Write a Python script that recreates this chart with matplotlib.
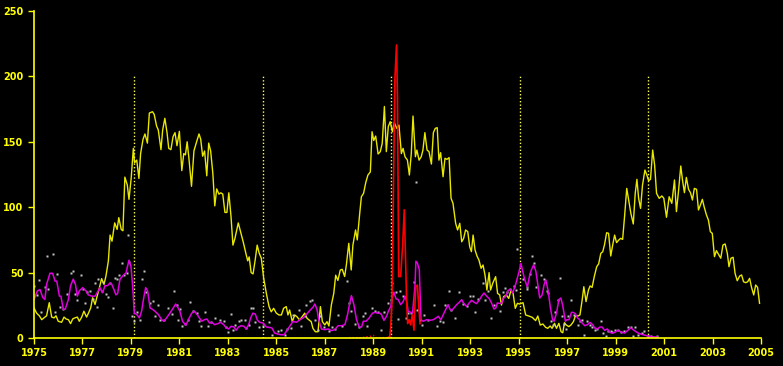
"""Monthly activity index 1975-2005 on a black background."""

import matplotlib
matplotlib.use("Agg")
import matplotlib.pyplot as plt

# --- yellow series ---
yellow_t = [
    1975.00, 1975.11, 1975.22, 1975.32, 1975.41, 1975.52, 1975.63, 1975.73, 1975.83, 1975.91,
    1976.00, 1976.14, 1976.24, 1976.32, 1976.42, 1976.51, 1976.60, 1976.69, 1976.79, 1976.87,
    1976.97, 1977.06, 1977.17, 1977.24, 1977.34, 1977.42, 1977.52, 1977.59, 1977.70, 1977.79,
    1977.89, 1977.97, 1978.07, 1978.14, 1978.22, 1978.33, 1978.43, 1978.50, 1978.60, 1978.67,
    1978.75, 1978.85, 1978.92, 1979.01, 1979.10, 1979.15, 1979.24, 1979.33, 1979.40, 1979.50,
    1979.58, 1979.68, 1979.76, 1979.89, 1979.96, 1980.06, 1980.13, 1980.24, 1980.31, 1980.40,
    1980.49, 1980.56, 1980.65, 1980.74, 1980.82, 1980.90, 1981.00, 1981.10, 1981.18, 1981.25,
    1981.32, 1981.39, 1981.50, 1981.60, 1981.71, 1981.81, 1981.88, 1981.96, 1982.04, 1982.13,
    1982.21, 1982.29, 1982.38, 1982.46, 1982.54, 1982.63, 1982.71, 1982.79, 1982.88, 1982.96,
    1983.04, 1983.13, 1983.21, 1983.29, 1983.43, 1983.54, 1983.64, 1983.74, 1983.82, 1983.88,
    1983.96, 1984.04, 1984.13, 1984.21, 1984.29, 1984.38, 1984.48, 1984.59, 1984.70, 1984.79,
    1984.89, 1985.00, 1985.11, 1985.21, 1985.30, 1985.41, 1985.48, 1985.55, 1985.66, 1985.76,
    1985.85, 1985.96, 1986.07, 1986.17, 1986.27, 1986.35, 1986.44, 1986.51, 1986.61, 1986.72,
    1986.82, 1986.90, 1987.00, 1987.09, 1987.17, 1987.27, 1987.37, 1987.45, 1987.54, 1987.64,
    1987.72, 1987.82, 1987.89, 1987.99, 1988.09, 1988.16, 1988.27, 1988.34, 1988.44, 1988.51,
    1988.60, 1988.69, 1988.78, 1988.88, 1988.95, 1989.02, 1989.10, 1989.20, 1989.29, 1989.37,
    1989.46, 1989.54, 1989.62, 1989.70, 1989.79, 1989.87, 1989.97, 1990.06, 1990.16, 1990.23,
    1990.31, 1990.41, 1990.49, 1990.57, 1990.64, 1990.74, 1990.80, 1990.89, 1990.98, 1991.05,
    1991.13, 1991.22, 1991.30, 1991.40, 1991.48, 1991.56, 1991.64, 1991.71, 1991.78, 1991.88,
    1991.96, 1992.04, 1992.13, 1992.21, 1992.29, 1992.40, 1992.48, 1992.57, 1992.65, 1992.73,
    1992.81, 1992.90, 1992.98, 1993.05, 1993.12, 1993.20, 1993.28, 1993.36, 1993.45, 1993.53,
    1993.61, 1993.69, 1993.78, 1993.84, 1993.94, 1994.05, 1994.13, 1994.22, 1994.29, 1994.38,
    1994.49, 1994.59, 1994.68, 1994.77, 1994.86, 1994.95, 1995.04, 1995.18, 1995.29, 1995.42,
    1995.56, 1995.70, 1995.79, 1995.89, 1996.00, 1996.11, 1996.20, 1996.30, 1996.38, 1996.48,
    1996.56, 1996.66, 1996.75, 1996.82, 1996.89, 1996.96, 1997.07, 1997.16, 1997.26, 1997.34,
    1997.44, 1997.53, 1997.62, 1997.69, 1997.78, 1997.88, 1997.95, 1998.03, 1998.12, 1998.22,
    1998.30, 1998.39, 1998.47, 1998.54, 1998.63, 1998.71, 1998.80, 1998.88, 1998.96, 1999.04,
    1999.13, 1999.21, 1999.29, 1999.37, 1999.46, 1999.54, 1999.63, 1999.73, 1999.81, 1999.88,
    1999.95, 2000.03, 2000.11, 2000.21, 2000.29, 2000.36, 2000.44, 2000.53, 2000.61, 2000.69,
    2000.80, 2000.91, 2000.99, 2001.10, 2001.21, 2001.32, 2001.43, 2001.51, 2001.60, 2001.69,
    2001.76, 2001.84, 2001.92, 2002.01, 2002.09, 2002.17, 2002.25, 2002.34, 2002.42, 2002.50,
    2002.58, 2002.66, 2002.75, 2002.83, 2002.91, 2002.99, 2003.08, 2003.16, 2003.24, 2003.34,
    2003.43, 2003.52, 2003.61, 2003.68, 2003.76, 2003.85, 2003.93, 2004.02, 2004.12, 2004.20,
    2004.28, 2004.37, 2004.45, 2004.53, 2004.61, 2004.70, 2004.78, 2004.86, 2004.94,
]
yellow_v = [
    23, 19, 17, 14, 15.4, 17, 27, 16, 15.4, 17,
    12.8, 12, 16, 14.6, 14, 11, 14.6, 15.4, 16, 12.8,
    16, 20.5, 16, 18.7, 23, 30.8, 25.6, 30.8, 38.5, 45.4,
    41, 47.4, 59, 78.7, 74, 88, 83, 92, 83, 82,
    123, 117, 106, 122, 145, 134, 136, 122, 141, 152,
    156, 149, 172, 173, 171, 162, 159, 144, 159, 168,
    157, 145, 144, 154, 157, 147, 158, 128, 141, 140,
    150, 138, 116, 143, 150, 156, 152, 139, 143, 124,
    149, 143, 126, 101, 114, 110, 111, 110, 96, 96,
    111, 93, 71, 76, 88, 80, 73, 65, 59, 62,
    50, 49, 60, 71, 65, 61, 45.6, 34, 24, 20,
    22.7, 19, 17.6, 17.6, 22.7, 24, 17.6, 21.4, 12.5, 17.6,
    16.3, 13.8, 16.3, 19, 15, 13.8, 12.5, 7.4, 4.8, 4.8,
    24, 12.5, 10, 12.5, 9.2, 25.2, 34, 48, 44, 52,
    52.5, 47, 55.8, 72.4, 52, 71, 82.6, 75, 95, 108,
    110.6, 118.8, 124.6, 127, 157.7, 151, 154.4, 140.7, 142.5, 148.8,
    177, 142.5, 161.6, 165.4, 157.7, 164.6, 160.3, 162.8, 141, 145,
    138.6, 136, 124.6, 141, 169.7, 138.6, 143.7, 136, 138.6, 143.7,
    157, 143.7, 142.5, 133, 157, 160.3, 160.8, 136, 141.7, 123.3,
    137.4, 136.6, 137.9, 106.8, 103, 87.7, 82.6, 87.7, 73.6, 76.2,
    82.6, 81.3, 69.8, 66, 78.7, 67.3, 62.7, 59.6, 53.3, 55.8,
    48.2, 36.7, 50, 36.7, 42.3, 46.9, 34.1, 32.9, 25.2, 31.6,
    32.9, 30.3, 36.2, 34.1, 22.7, 26.5, 26, 27, 17.6, 16.8,
    15.8, 13.3, 16.8, 9.9, 10.7, 8.2, 7.4, 9.2, 7.4, 11.2,
    7.4, 11.2, 4.8, 4, 11.7, 10, 8.7, 10, 12.5, 16.8,
    16.8, 17.6, 29, 39.2, 27.8, 36.7, 39.8, 38.7, 46.9, 54.5,
    56.6, 64.7, 66, 71.1, 80.5, 80, 62.7, 71.1, 78.7, 72.9,
    74.9, 76.2, 75.4, 92.8, 114.4, 105.5, 95.3, 87.2, 110.6, 121.3,
    106.8, 99.1, 116.8, 128.4, 124.6, 120.3, 121.3, 143.7, 132.3, 110.6,
    106.8, 108.6, 106.8, 92.3, 108, 103, 120.8, 96.6, 113.1, 131.5,
    120.8, 111.1, 122.8, 113.7, 111.1, 105.5, 114.4, 113.7, 97.9, 101.7,
    106, 99.9, 94, 90.2, 81.3, 80, 62.2, 66.8, 64.2, 61,
    71.1, 71.9, 64.7, 54.5, 61, 61.7, 49.4, 43.8, 47.4, 48.2,
    43, 42.3, 43, 45.6, 38.7, 32.9, 40.5, 38.7, 26.5,
]

# --- magenta (smoothed) series ---
magenta_t = [
    1975.00, 1975.14, 1975.25, 1975.36, 1975.45, 1975.52, 1975.66, 1975.77, 1975.87, 1975.94,
    1976.05, 1976.11, 1976.21, 1976.29, 1976.42, 1976.51, 1976.62, 1976.71, 1976.79, 1976.87,
    1977.01, 1977.15, 1977.24, 1977.38, 1977.52, 1977.65, 1977.72, 1977.83, 1977.93, 1978.03,
    1978.14, 1978.21, 1978.30, 1978.38, 1978.45, 1978.55, 1978.69, 1978.80, 1978.92, 1979.00,
    1979.07, 1979.14, 1979.24, 1979.35, 1979.44, 1979.54, 1979.61, 1979.69, 1979.79, 1979.90,
    1979.99, 1980.13, 1980.27, 1980.36, 1980.47, 1980.61, 1980.75, 1980.85, 1980.93, 1981.02,
    1981.13, 1981.27, 1981.37, 1981.51, 1981.62, 1981.73, 1981.83, 1981.92, 1982.03, 1982.14,
    1982.24, 1982.34, 1982.45, 1982.59, 1982.70, 1982.83, 1982.93, 1983.03, 1983.14, 1983.25,
    1983.34, 1983.44, 1983.55, 1983.66, 1983.76, 1983.86, 1983.94, 1984.03, 1984.13, 1984.21,
    1984.31, 1984.45, 1984.59, 1984.68, 1984.82, 1984.93, 1985.07, 1985.18, 1985.32, 1985.41,
    1985.55, 1985.69, 1985.83, 1985.97, 1986.10, 1986.24, 1986.38, 1986.52, 1986.59, 1986.68,
    1986.75, 1986.86, 1987.00, 1987.14, 1987.28, 1987.41, 1987.55, 1987.69, 1987.83, 1987.94,
    1988.03, 1988.10, 1988.20, 1988.31, 1988.42, 1988.52, 1988.59, 1988.70, 1988.83, 1988.97,
    1989.07, 1989.17, 1989.28, 1989.34, 1989.44, 1989.55, 1989.62, 1989.72, 1989.80, 1989.85,
    1989.94, 1990.03, 1990.13, 1990.24, 1990.31, 1990.38, 1990.44, 1990.54, 1990.62, 1990.72,
    1990.76, 1990.82, 1990.90, 1990.97, 1991.06, 1991.20, 1991.34, 1991.48, 1991.59, 1991.68,
    1991.79, 1991.89, 1992.00, 1992.09, 1992.16, 1992.23, 1992.33, 1992.44, 1992.55, 1992.65,
    1992.74, 1992.85, 1992.96, 1993.06, 1993.15, 1993.26, 1993.37, 1993.47, 1993.57, 1993.68,
    1993.79, 1993.88, 1993.98, 1994.06, 1994.12, 1994.20, 1994.30, 1994.36, 1994.47, 1994.57,
    1994.67, 1994.75, 1994.85, 1994.91, 1995.02, 1995.09, 1995.15, 1995.25, 1995.36, 1995.46,
    1995.53, 1995.62, 1995.71, 1995.78, 1995.87, 1995.97, 1996.05, 1996.12, 1996.22, 1996.31,
    1996.40, 1996.46, 1996.56, 1996.66, 1996.74, 1996.81, 1996.88, 1996.93, 1996.99, 1997.08,
    1997.18, 1997.25, 1997.34, 1997.43, 1997.52, 1997.62, 1997.73, 1997.84, 1997.94, 1998.05,
    1998.14, 1998.25, 1998.35, 1998.44, 1998.55, 1998.66, 1998.76, 1998.86, 1998.97, 1999.08,
    1999.17, 1999.27, 1999.38, 1999.45, 1999.54, 1999.63, 1999.72, 1999.82, 1999.93, 2000.04,
    2000.14, 2000.27, 2000.41, 2000.55, 2000.73,
]
magenta_v = [
    29.5, 36, 37, 31, 29.5, 41, 49.5, 49.5, 43.5, 43.5,
    32, 32, 22, 22, 29.5, 40, 45, 41, 32, 36,
    38.5, 36, 33, 32, 32, 36, 38.5, 34.6, 40, 40,
    42, 41, 37, 33, 34, 45, 48, 50, 59.5, 55,
    40, 19, 18, 15.4, 20.5, 32, 38.5, 36, 23, 21.8,
    20.5, 18, 14, 12.8, 15.4, 19, 23, 26, 23.6, 20.5,
    12.8, 9.7, 14, 19, 20.5, 18, 15.3, 12.8, 14, 14.5,
    11.5, 12, 10.2, 11, 12, 10.2, 7.7, 6.9, 9, 8.4,
    5.9, 8.4, 9.4, 9, 6.9, 10.2, 15.3, 19, 18.4, 14,
    12, 11.5, 8.4, 8.2, 7.7, 3.8, 3, 2.5, 2.5, 5,
    9, 12.8, 12, 14, 15.3, 18, 21, 23.7, 26, 21.7,
    14, 6.9, 6.4, 6.9, 5.6, 6.4, 9.4, 9.4, 10.2, 18,
    26.8, 32.4, 25.5, 14, 8.4, 8.4, 12.8, 12.8, 15.3, 19,
    19.6, 19, 19, 17.9, 13.5, 16.6, 20.4, 24, 32, 35,
    30, 29.3, 25.5, 28, 32, 28, 20.4, 19.6, 19, 39.5,
    58.7, 57.4, 52.3, 14, 12.8, 14, 13.5, 14, 15.3, 16.6,
    14, 17.9, 22.2, 25.5, 22.2, 21, 23, 25.5, 27.3, 29.3,
    26.3, 24.2, 26.8, 28.8, 27.5, 26.3, 28.8, 32, 34.4, 32,
    30, 26.8, 22.2, 23, 26.8, 26.5, 26.5, 30, 32, 36.5,
    37, 34.4, 39.5, 43.4, 51, 57, 52.3, 44.6, 39, 48.5,
    52.3, 56, 51, 42, 30.6, 33, 40.8, 44.6, 35.7, 23,
    14, 12.8, 19, 29.3, 30.6, 25.5, 17.9, 12.8, 14, 14,
    19.6, 19.6, 18.6, 15.3, 14, 11.5, 9.4, 10.2, 12, 10.2,
    7.7, 6.9, 8.4, 8.4, 5.9, 6.9, 4.3, 3.8, 4.3, 5.9,
    5.1, 4.3, 3.8, 5.1, 6.4, 7.7, 6.4, 5.1, 3.8, 3,
    2.5, 1.8, 1.3, 0.8, 0.8,
]

# --- white dots (monthly raw values) ---
dots_t = [
    1975.00, 1975.14, 1975.21, 1975.29, 1975.45, 1975.52, 1975.59, 1975.77, 1975.87, 1975.94,
    1976.07, 1976.18, 1976.35, 1976.51, 1976.60, 1976.69, 1976.79, 1976.93, 1977.04, 1977.10,
    1977.20, 1977.31, 1977.45, 1977.52, 1977.59, 1977.65, 1977.79, 1977.86, 1977.97, 1978.07,
    1978.14, 1978.25, 1978.34, 1978.44, 1978.52, 1978.62, 1978.71, 1978.82, 1978.89, 1978.92,
    1979.03, 1979.14, 1979.24, 1979.37, 1979.47, 1979.54, 1979.62, 1979.79, 1979.90, 1979.99,
    1980.13, 1980.20, 1980.36, 1980.54, 1980.68, 1980.78, 1980.89, 1980.96, 1981.02, 1981.12,
    1981.23, 1981.34, 1981.44, 1981.58, 1981.71, 1981.81, 1981.90, 1982.06, 1982.17, 1982.31,
    1982.48, 1982.66, 1982.83, 1982.93, 1983.00, 1983.11, 1983.21, 1983.28, 1983.44, 1983.55,
    1983.69, 1983.76, 1983.86, 1983.94, 1984.03, 1984.10, 1984.27, 1984.45, 1984.68, 1984.82,
    1985.07, 1985.18, 1985.34, 1985.46, 1985.62, 1985.69, 1985.92, 1986.01, 1986.17, 1986.24,
    1986.38, 1986.48, 1986.59, 1986.70, 1986.79, 1986.97, 1987.17, 1987.28, 1987.41, 1987.55,
    1987.69, 1987.90, 1987.99, 1988.10, 1988.24, 1988.41, 1988.59, 1988.66, 1988.75, 1988.93,
    1989.07, 1989.21, 1989.34, 1989.44, 1989.62, 1989.72, 1989.76, 1989.83, 1989.94, 1990.03,
    1990.10, 1990.24, 1990.35, 1990.44, 1990.54, 1990.68, 1990.75, 1990.79, 1990.93, 1991.00,
    1991.09, 1991.27, 1991.50, 1991.64, 1991.75, 1991.86, 1991.96, 1992.11, 1992.19, 1992.37,
    1992.52, 1992.71, 1992.88, 1992.99, 1993.10, 1993.20, 1993.33, 1993.51, 1993.61, 1993.75,
    1993.84, 1993.98, 1994.23, 1994.34, 1994.43, 1994.53, 1994.64, 1994.81, 1994.91, 1994.95,
    1995.19, 1995.33, 1995.36, 1995.46, 1995.53, 1995.62, 1995.73, 1995.94, 1996.05, 1996.15,
    1996.22, 1996.33, 1996.43, 1996.52, 1996.63, 1996.70, 1996.77, 1996.88, 1996.97, 1997.04,
    1997.18, 1997.29, 1997.43, 1997.52, 1997.62, 1997.70, 1997.84, 1997.94, 1998.03, 1998.14,
    1998.25, 1998.39, 1998.48, 1998.59, 1998.69, 1998.80, 1998.86, 1998.99, 1999.08, 1999.24,
    1999.35, 1999.52, 1999.63, 1999.72, 1999.79, 1999.93, 2000.07, 2000.18, 2000.32, 2000.45,
    2000.70,
]
dots_v = [
    39.5, 33, 44, 20, 39, 62.5, 37.5, 64, 20, 49,
    24, 22, 34, 50, 51.5, 34, 29, 48, 37.5, 27,
    35, 36, 30, 42, 24, 45, 36, 43, 34, 31,
    42, 23, 46, 45, 48.5, 57.5, 48, 50, 78.5, 58,
    16.5, 12.8, 19.6, 13.5, 45, 51, 35, 27, 28, 16.5,
    25.5, 13.5, 14, 23, 18, 36, 25.5, 13.5, 22, 9,
    11, 14, 27.5, 20.5, 19, 12.8, 9.4, 19.6, 9, 12,
    15.3, 13.5, 12.8, 8.4, 4.3, 18.6, 6.4, 10.2, 12.8, 13.5,
    13.5, 7.7, 10.2, 23, 23, 12, 8.4, 9, 12, 2.5,
    5.1, 5.9, 2.5, 6.9, 7.7, 17.9, 21.7, 9.4, 16.6, 25.5,
    28, 28.8, 14, 6.4, 16.6, 8.4, 5.1, 8.4, 6.9, 17.9,
    9, 43.4, 26.8, 20.4, 11, 8.4, 16.6, 19, 9.4, 23,
    20.4, 19.6, 6.4, 19.6, 26.8, 29.3, 42, 34.4, 35, 14.5,
    35.7, 32.4, 15.3, 19, 19, 42.6, 119.5, 21.2, 14, 10.2,
    17.9, 13.5, 25.5, 9.4, 12.8, 12, 25.5, 35.7, 21.7, 15.3,
    35, 26.3, 24.2, 32, 32.4, 19.6, 30, 42, 28.8, 35.7,
    15.3, 25.5, 20.4, 35, 38.3, 35, 37.5, 40, 37, 68,
    45, 37.5, 39, 49, 62.5, 57.4, 39, 48.5, 45, 35.7,
    34.4, 12.8, 10.2, 19.6, 29.3, 46, 16.6, 11, 6.9, 16.6,
    29.3, 17.9, 10.2, 12.8, 13.5, 2.5, 12.8, 10.2, 8.4, 5.9,
    6.9, 12.8, 3.8, 1.8, 5.1, 5.1, 4.3, 6.4, 6.4, 4.3,
    5.1, 8.4, 8.4, 1.8, 8.4, 2.5, 3.8, 5.1, 1.8, 1.3,
    1.8,
]

# --- red series (burst around 1990) ---
red_zero_t = [1988.00, 1988.50, 1988.95, 1989.00, 1989.08, 1989.60]
red_zero_v = [0.3, 0.3, 1.5, 2.0, 0.3, 0.3]
red_t = [
    1989.60, 1989.68, 1989.72, 1989.77, 1989.83, 1989.89, 1989.96, 1990.00, 1990.05, 1990.13,
    1990.21, 1990.28, 1990.33, 1990.38, 1990.42, 1990.49, 1990.54, 1990.61, 1990.68, 1990.75,
    1990.82, 1990.88, 1990.93,
]
red_v = [
    0.3, 1, 8.7, 26.5, 108, 197, 224, 184, 47, 47,
    70, 98, 62, 26.5, 11, 14, 10, 17.6, 6, 39,
    40.5, 24, 11,
]

# --- vertical markers ---
marker_years = [1979.13, 1984.45, 1989.73, 1995.06, 2000.34]
marker_top = 200

x_ticks = list(range(1975, 2006, 2))
y_ticks = [0, 50, 100, 150, 200, 250]

YELLOW = "#ffff00"

fig = plt.figure(figsize=(7.83, 3.66), dpi=100, facecolor="black")
ax = fig.add_axes([0.0434, 0.0765, 0.9285, 0.8934], facecolor="black")

ax.vlines(marker_years, 0, marker_top, colors="#ffff50", linestyles=(0, (1, 1.5)), linewidth=1)
ax.plot(yellow_t, yellow_v, color="#e8e800", linewidth=1.0)
ax.plot(dots_t, dots_v, linestyle="none", marker="s", markersize=2.0,
        markerfacecolor="#c4c4c4", markeredgecolor="none")
ax.plot(magenta_t, magenta_v, color="#e000e0", linewidth=1.1)
ax.plot(red_zero_t, red_zero_v, color="#ff0000", linewidth=1.0, linestyle=(0, (1, 1.5)))
ax.plot(red_t, red_v, color="#ff0000", linewidth=1.2)

ax.set_xlim(1975, 2005)
ax.set_ylim(0, 250)
ax.set_xticks(x_ticks)
ax.set_yticks(y_ticks)

for side in ("top", "right"):
    ax.spines[side].set_visible(False)
for side in ("left", "bottom"):
    ax.spines[side].set_color(YELLOW)
    ax.spines[side].set_linewidth(1.2)
ax.tick_params(colors=YELLOW, length=4, width=1, labelsize=7)
for lbl in ax.get_xticklabels() + ax.get_yticklabels():
    lbl.set_fontweight("bold")

fig.savefig("out.png", dpi=100, facecolor="black")
